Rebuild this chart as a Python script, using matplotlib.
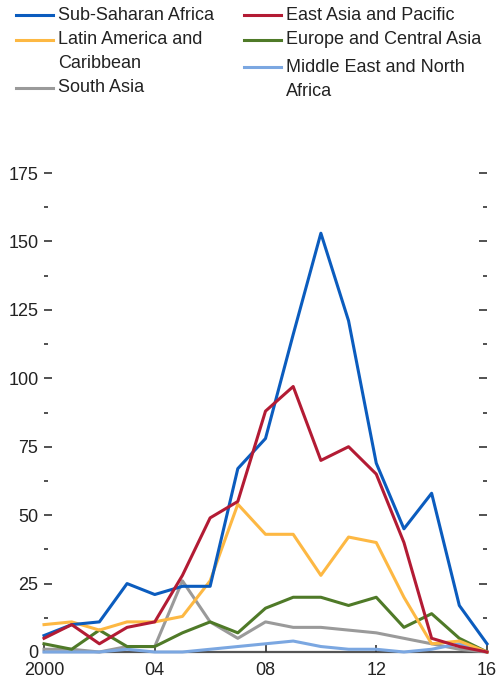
import matplotlib.pyplot as plt
from matplotlib.ticker import MultipleLocator
from matplotlib.lines import Line2D

plt.rcParams['font.family'] = ['Liberation Sans', 'DejaVu Sans']

# Data
years = list(range(2000, 2017))
ssa = [6, 10, 11, 25, 21, 24, 24, 67, 78, 116, 153, 121, 69, 45, 58, 17, 3]
eap = [5, 10, 3, 9, 11, 28, 49, 55, 88, 97, 70, 75, 65, 40, 5, 2, 0]
lac = [10, 11, 8, 11, 11, 13, 26, 54, 43, 43, 28, 42, 40, 20, 3, 4, 0]
eca = [3, 1, 8, 2, 2, 7, 11, 7, 16, 20, 20, 17, 20, 9, 14, 5, 0]
sas = [1, 1, 0, 2, 2, 26, 11, 5, 11, 9, 9, 8, 7, 5, 3, 1, 0]
mena = [0, 0, 0, 1, 0, 0, 1, 2, 3, 4, 2, 1, 1, 0, 1, 3, 0]

labels = ["Sub-Saharan Africa", "Latin America and\nCaribbean", "South Asia",
          "East Asia and Pacific", "Europe and Central Asia", "Middle East and North\nAfrica"]
series = [ssa, lac, sas, eap, eca, mena]
colors = ["#0b5cbe", "#fdb843", "#9a9a9a", "#b31b34", "#4f7a28", "#7ba7e1"]

xticks = [2000, 2004, 2008, 2012, 2016]
xticklabels = ["2000", "04", "08", "12", "16"]

W, H = 499, 681
fig = plt.figure(figsize=(W / 100, H / 100), dpi=100)
ax = fig.add_axes([44 / W, 29 / H, 443 / W, 479 / H])

# draw order: light ones first, then the big ones
for i in [2, 5, 4, 1, 0, 3]:
    ax.plot(years, series[i], color=colors[i], lw=2.2, clip_on=False)

ax.set_xlim(2000, 2016)
ax.set_ylim(0, 175)

for s in ['left', 'right', 'top']:
    ax.spines[s].set_visible(False)
ax.spines['bottom'].set_color('#555555')
ax.spines['bottom'].set_linewidth(1.6)
ax.spines['bottom'].set_zorder(0)

fs = 13
ax.yaxis.set_major_locator(MultipleLocator(25))
ax.yaxis.set_minor_locator(MultipleLocator(12.5))
ax.tick_params(axis='y', which='major', direction='in', length=6, width=1.2,
               left=True, right=True, labelsize=fs, labelcolor='#222222', pad=4, color='#333333')
ax.tick_params(axis='y', which='minor', direction='in', length=3, width=1.2,
               left=True, right=True, color='#333333')
ax.set_xticks(xticks)
ax.set_xticklabels(xticklabels)
ax.tick_params(axis='x', direction='in', length=5, width=1.2, labelsize=fs,
               labelcolor='#222222', pad=7, color='#333333')

# legend, two columns drawn by hand
legend_pos = [(16, 15), (16, 40), (16, 88), (244, 15), (244, 40), (244, 67)]
for (lx, ly), lab, col in zip(legend_pos, labels, colors):
    fig.add_artist(Line2D([lx / W, (lx + 37) / W], [1 - ly / H, 1 - ly / H],
                          color=col, lw=2.2))
    for k, line in enumerate(lab.split("\n")):
        fig.text((lx + 42) / W, 1 - (ly + 24 * k) / H, line, fontsize=fs,
                 color='#222222', va='center', ha='left')

fig.savefig("out.png", dpi=100)
